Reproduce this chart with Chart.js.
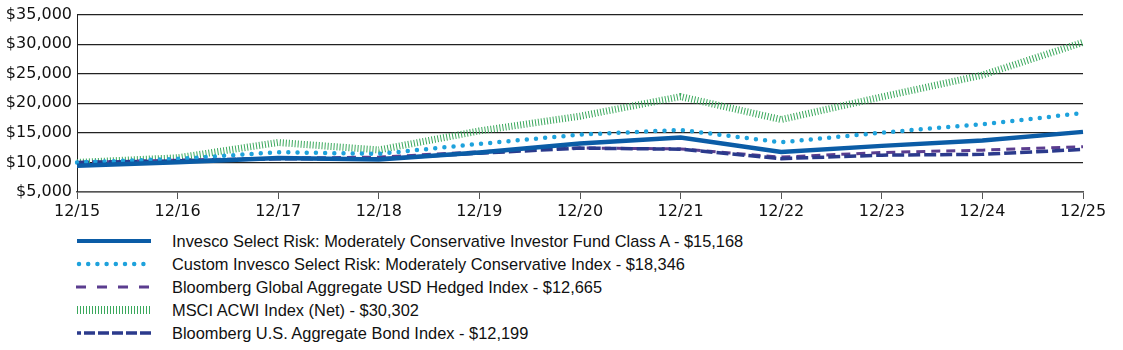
<!DOCTYPE html>
<html>
<head>
<meta charset="utf-8">
<script src="https://cdn.jsdelivr.net/npm/chart.js@4.4.1/dist/chart.umd.min.js"></script>
<style>
  body { margin: 0; background: #fff; }
  #wrap { position: relative; width: 1123px; height: 350px; }
  #chartBox { position: absolute; left: 0; top: 0; width: 1123px; height: 225px; }
  .row { position: absolute; left: 0; height: 20px; width: 900px; }
  .row svg { position: absolute; left: 74px; top: 0; }
  .row span { position: absolute; left: 172px; top: 0; line-height: 20px;
    font-family: "Liberation Sans", Arial, sans-serif; font-size: 16.4px; color: #111; white-space: nowrap; }
</style>
</head>
<body>
<div id="wrap">
  <div id="chartBox"><canvas id="myChart"></canvas></div>
  <div id="legend"></div>
</div>
<script>
// years on the x axis
const years = ['12/15', '12/16', '12/17', '12/18', '12/19', '12/20', '12/21', '12/22', '12/23', '12/24', '12/25'];

// growth of $10,000
const fundA     = [9450, 10050, 10740, 10500, 11680, 13190, 14200, 11760, 12800, 13720, 15168];
const customIdx = [10000, 10600, 11730, 11450, 13140, 14700, 15500, 13400, 15050, 16450, 18346];
const globalAgg = [10000, 10395, 10711, 10900, 11796, 12454, 12281, 10903, 11683, 12080, 12665];
const msciAcwi  = [10000, 10786, 13370, 12110, 15330, 17820, 21130, 17250, 21080, 24770, 30302];
const usAgg     = [10000, 10265, 10628, 10629, 11556, 12424, 12233, 10641, 11230, 11370, 12199];

const names = [
    'Invesco Select Risk: Moderately Conservative Investor Fund Class A - $15,168',
    'Custom Invesco Select Risk: Moderately Conservative Index - $18,346',
    'Bloomberg Global Aggregate USD Hedged Index - $12,665',
    'MSCI ACWI Index (Net) - $30,302',
    'Bloomberg U.S. Aggregate Bond Index - $12,199'
];

const colors = ['#0b5ca6', '#1ea2dc', '#5b3d8f', '#3aa85c', '#2b3a8c'];

var ctx = document.getElementById('myChart').getContext('2d');
const chart = new Chart(ctx, {
    type: 'line',
    data: {
        labels: years,
        datasets: [
            { label: names[0], data: fundA, borderColor: colors[0], borderWidth: 4.5, order: 0 },
            { label: names[1], data: customIdx, borderColor: colors[1], borderWidth: 4.5,
              borderDash: [0, 9.2], borderCapStyle: 'round', order: 1 },
            { label: names[2], data: globalAgg, borderColor: colors[2], borderWidth: 3,
              borderDash: [9, 6], order: 3 },
            { label: names[3], data: msciAcwi, borderColor: colors[3], borderWidth: 7,
              borderDash: [1, 2], order: 4 },
            { label: names[4], data: usAgg, borderColor: colors[4], borderWidth: 3.5,
              borderDash: [12, 4], order: 2 }
        ]
    },
    options: {
        responsive: true,
        maintainAspectRatio: false,
        animation: false,
        layout: { padding: { top: 13, right: 40, left: 0, bottom: 0 } },
        elements: {
            point: { radius: 0 },
            line: { tension: 0, fill: false }
        },
        plugins: {
            legend: { display: false },
            tooltip: { enabled: false }
        },
        scales: {
            x: {
                offset: false,
                grid: { drawOnChartArea: false, drawTicks: true, tickLength: 7, color: '#555' },
                border: { display: true, color: '#555', width: 1.5 },
                ticks: { color: '#111', font: { family: 'DejaVu Sans', size: 16 }, maxRotation: 0, padding: 3 },
                afterFit: scale => { scale.height = 33; }
            },
            y: {
                min: 5000,
                max: 35000,
                grid: { color: '#222', drawTicks: false, lineWidth: 1.2 },
                border: { display: true, color: '#222' },
                ticks: {
                    stepSize: 5000,
                    padding: 5,
                    color: '#111',
                    font: { family: 'DejaVu Sans', size: 16 },
                    callback: v => '$' + v.toLocaleString('en-US')
                },
                afterFit: scale => { scale.width = 77; }
            }
        }
    }
});

// html legend, one row per series
const samples = [
    '<line x1="3" y1="10" x2="77" y2="10" stroke="' + colors[0] + '" stroke-width="4"/>',
    '<line x1="5" y1="10" x2="78" y2="10" stroke="' + colors[1] + '" stroke-width="4.5" stroke-linecap="round" stroke-dasharray="0 9.2"/>',
    '<line x1="2" y1="10" x2="78" y2="10" stroke="' + colors[2] + '" stroke-width="3" stroke-dasharray="10 11"/>',
    '<line x1="3" y1="10" x2="77" y2="10" stroke="' + colors[3] + '" stroke-width="8" stroke-dasharray="1 2"/>',
    '<line x1="3" y1="10" x2="77" y2="10" stroke="' + colors[4] + '" stroke-width="3.5" stroke-dasharray="11 3" stroke-dashoffset="7"/>'
];
const rowTops = [231, 254, 277, 300, 323];
const legend = document.getElementById('legend');
names.forEach((name, i) => {
    const row = document.createElement('div');
    row.className = 'row';
    row.style.top = rowTops[i] + 'px';
    row.innerHTML = '<svg width="80" height="20">' + samples[i] + '</svg><span>' + name + '</span>';
    legend.appendChild(row);
});
</script>
</body>
</html>
